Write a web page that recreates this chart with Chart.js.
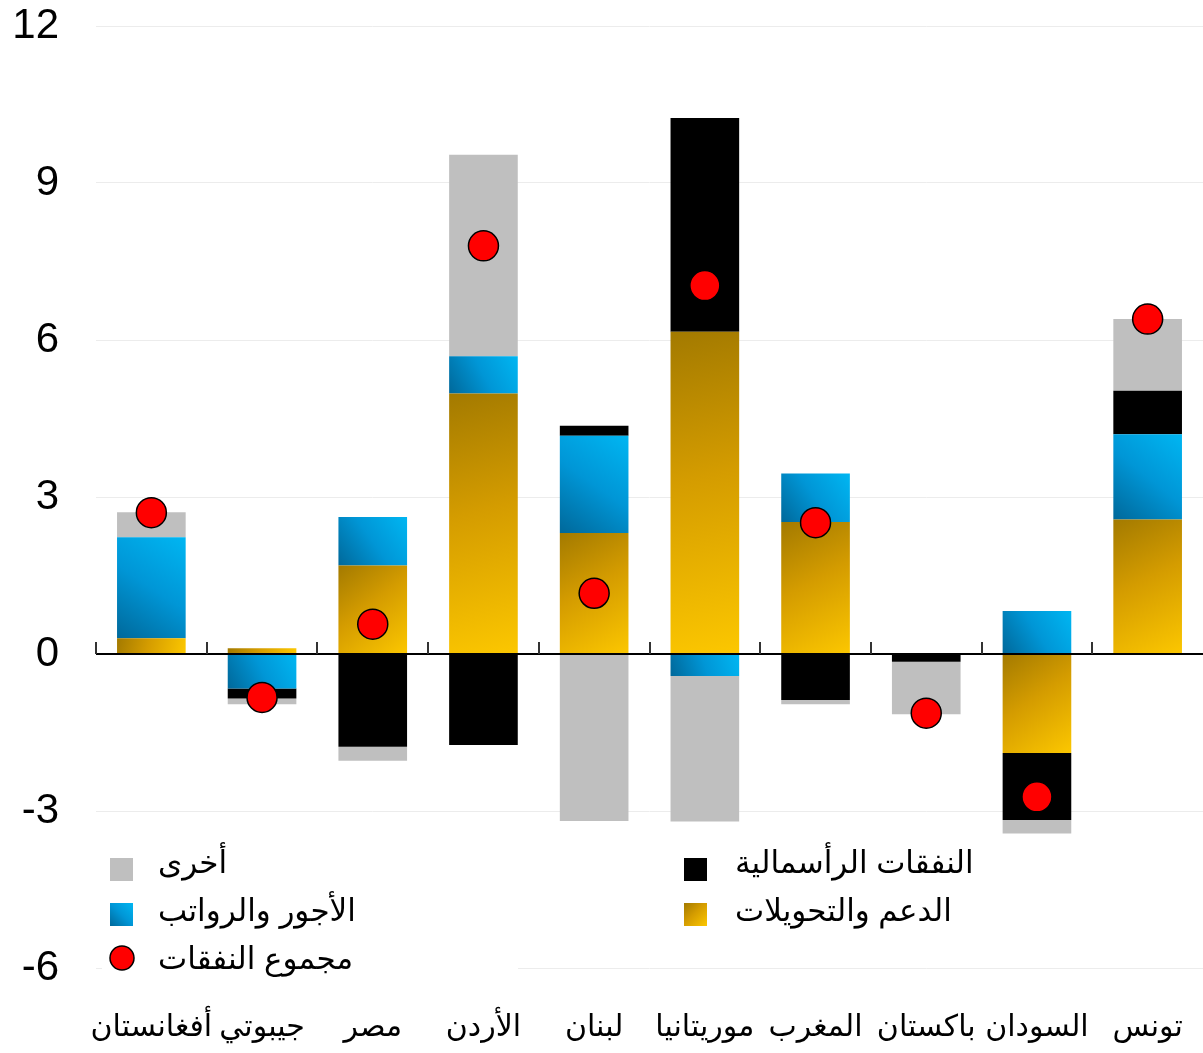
<!DOCTYPE html>
<html>
<head>
<meta charset="utf-8">
<script src="https://cdn.jsdelivr.net/npm/chart.js@4.4.1/dist/chart.umd.min.js"></script>
<style>
  html, body { margin: 0; padding: 0; background: #fff; }
  #chart { display: block; }
</style>
</head>
<body>
<canvas id="chart" width="1203" height="1053"></canvas>
<script>
// categories (left to right)
const categories = ['أفغانستان', 'جيبوتي', 'مصر', 'الأردن', 'لبنان', 'موريتانيا', 'المغرب', 'باكستان', 'السودان', 'تونس'];

// components of spending change
const subsidies = [0.30, 0.11, 1.69, 4.98, 2.31, 6.16, 2.52, 0, -1.89, 2.57];
const wages     = [1.93, -0.66, 0.93, 0.71, 1.86, -0.42, 0.93, 0, 0.82, 1.63];
const capital   = [0, -0.19, -1.77, -1.74, 0.19, 4.08, -0.88, -0.15, -1.28, 0.83];
const other     = [0.48, -0.11, -0.27, 3.85, -3.19, -2.78, -0.08, -1.00, -0.26, 1.37];
const total     = [2.70, -0.83, 0.57, 7.80, 1.16, 7.04, 2.51, -1.13, -2.73, 6.40];

const yTicks = [-6, -3, 0, 3, 6, 9, 12];

const seriesList = [subsidies, wages, capital, other];
const BAR_PCT = 0.62;

const goldStops = [[0, '#a37a00'], [0.45, '#d49c00'], [1, '#fcc700']];
const blueStops = [[0, '#00689a'], [0.5, '#0096d6'], [1, '#00b6f2']];

// where a stacked piece starts and ends (positives and negatives stack apart)
function stackRange(k, i) {
  const v = seriesList[k][i];
  let base = 0;
  for (let j = 0; j < k; j++) {
    const w = seriesList[j][i];
    if ((w >= 0) === (v >= 0)) base += w;
  }
  return [base, base + v];
}

function makeGrad(ctx, x0, y0, x1, y1, stops) {
  const g = ctx.createLinearGradient(x0, y0, x1, y1);
  stops.forEach(s => g.addColorStop(s[0], s[1]));
  return g;
}

function gradFill(stops, fromBottom) {
  return (ctx) => {
    const chart = ctx.chart;
    const xs = chart.scales.x, ys = chart.scales.y;
    if (ctx.type !== 'data' || !xs || !ys || !chart.chartArea) return stops[1][1];
    const [a, b] = stackRange(ctx.datasetIndex, ctx.dataIndex);
    const ya = ys.getPixelForValue(a), yb = ys.getPixelForValue(b);
    const top = Math.min(ya, yb), bot = Math.max(ya, yb);
    const cx = xs.getPixelForValue(ctx.dataIndex);
    const half = xs.width / categories.length * BAR_PCT / 2;
    return fromBottom
      ? makeGrad(chart.ctx, cx - half, bot, cx + half, top, stops)
      : makeGrad(chart.ctx, cx - half, top, cx + half, bot, stops);
  };
}

// zero line and small category ticks, drawn over the bars
const zeroLine = {
  id: 'zeroLine',
  afterDatasetsDraw(chart) {
    const { ctx, chartArea, scales } = chart;
    const y0 = scales.y.getPixelForValue(0);
    const step = scales.x.width / categories.length;
    ctx.save();
    ctx.strokeStyle = '#000';
    ctx.lineWidth = 2;
    ctx.beginPath();
    ctx.moveTo(chartArea.left, y0);
    ctx.lineTo(chartArea.right, y0);
    ctx.stroke();
    ctx.strokeStyle = '#333';
    for (let i = 0; i < categories.length; i++) {
      const x = Math.round(chartArea.left + i * step);
      ctx.beginPath();
      ctx.moveTo(x, y0);
      ctx.lineTo(x, y0 - 12);
      ctx.stroke();
    }
    ctx.restore();
  }
};

// legend drawn in two columns in the lower part of the plot
const legendBox = {
  id: 'legendBox',
  afterDraw(chart) {
    const ctx = chart.ctx;
    ctx.save();
    ctx.fillStyle = '#fff';
    ctx.fillRect(102, 938, 416, 50);

    ctx.fillStyle = '#bfbfbf';
    ctx.fillRect(110, 858, 23, 23);
    ctx.fillStyle = makeGrad(ctx, 110, 926, 133, 903, blueStops);
    ctx.fillRect(110, 903, 23, 23);
    ctx.fillStyle = '#000';
    ctx.fillRect(684, 858, 23, 23);
    ctx.fillStyle = makeGrad(ctx, 684, 903, 707, 926, goldStops);
    ctx.fillRect(684, 903, 23, 23);

    ctx.beginPath();
    ctx.arc(122, 958, 12, 0, Math.PI * 2);
    ctx.fillStyle = '#ff0000';
    ctx.fill();
    ctx.lineWidth = 1.5;
    ctx.strokeStyle = '#000';
    ctx.stroke();

    ctx.font = '31px "Liberation Sans", "DejaVu Sans", sans-serif';
    ctx.textBaseline = 'middle';
    ctx.textAlign = 'left';
    ctx.direction = 'rtl';
    ctx.fillStyle = '#000';
    ctx.fillText('أخرى', 158, 864);
    ctx.fillText('الأجور والرواتب', 158, 912);
    ctx.fillText('مجموع النفقات', 158, 960);
    ctx.fillText('النفقات الرأسمالية', 735, 864);
    ctx.fillText('الدعم والتحويلات', 735, 912);
    ctx.restore();
  }
};

const barCommon = {
  type: 'bar',
  stack: 'parts',
  order: 2,
  barPercentage: BAR_PCT,
  categoryPercentage: 1.0,
  borderWidth: 0
};

new Chart(document.getElementById('chart'), {
  data: {
    labels: categories,
    datasets: [
      { ...barCommon, label: 'الدعم والتحويلات', data: subsidies, backgroundColor: gradFill(goldStops, false) },
      { ...barCommon, label: 'الأجور والرواتب', data: wages, backgroundColor: gradFill(blueStops, true) },
      { ...barCommon, label: 'النفقات الرأسمالية', data: capital, backgroundColor: '#000000' },
      { ...barCommon, label: 'أخرى', data: other, backgroundColor: '#bfbfbf' },
      {
        type: 'line',
        label: 'مجموع النفقات',
        data: total,
        stack: 'total',
        order: 0,
        showLine: false,
        pointRadius: 15,
        pointHoverRadius: 15,
        pointBackgroundColor: '#ff0000',
        pointBorderColor: '#000000',
        pointBorderWidth: 1.5
      }
    ]
  },
  options: {
    responsive: false,
    devicePixelRatio: 1,
    animation: false,
    layout: { autoPadding: false, padding: { top: 26, right: 0, left: 0, bottom: 0 } },
    plugins: {
      legend: { display: false },
      tooltip: { enabled: false }
    },
    scales: {
      x: {
        stacked: true,
        grid: { display: false },
        border: { display: false },
        ticks: {
          color: '#000',
          padding: 34,
          maxRotation: 0,
          autoSkip: false,
          font: { family: '"Liberation Sans", "DejaVu Sans", sans-serif', size: 30 }
        },
        afterFit(scale) {
          scale.height = 85;
          scale.paddingLeft = 0;
          scale.paddingRight = 0;
        }
      },
      y: {
        stacked: true,
        min: -6,
        max: 12,
        afterBuildTicks(scale) { scale.ticks = yTicks.map(v => ({ value: v })); },
        grid: {
          color: (c) => c.tick && c.tick.value === 0 ? 'rgba(0,0,0,0)' : '#ececec',
          lineWidth: 1,
          drawTicks: false
        },
        border: { display: false },
        ticks: {
          color: '#000',
          padding: 37,
          font: { family: '"Liberation Sans", "DejaVu Sans", sans-serif', size: 42 }
        },
        afterFit(scale) {
          scale.width = 96;
          scale.paddingTop = 0;
          scale.paddingBottom = 0;
        }
      }
    }
  },
  plugins: [zeroLine, legendBox]
});
</script>
</body>
</html>
